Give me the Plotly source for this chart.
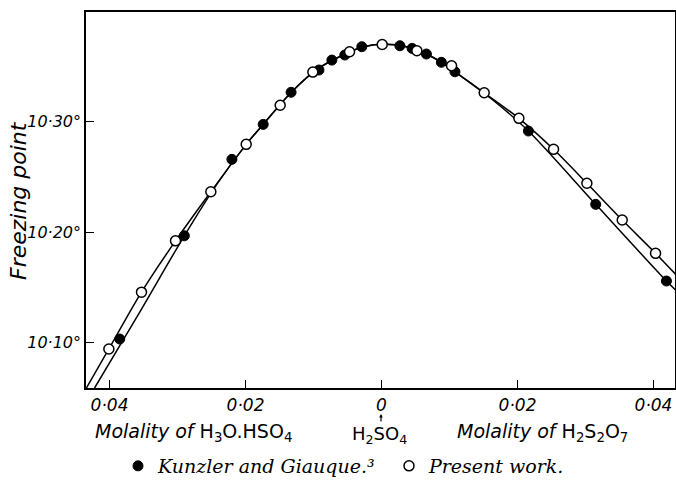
import plotly.graph_objects as go

# ---------------- data ----------------
# x: negative = molality of H3O.HSO4, positive = molality of H2S2O7
kg_x = [-0.0385, -0.0290, -0.0220, -0.0174, -0.0133, -0.0092, -0.0073, -0.0054,
        -0.0029, 0.0027, 0.0045, 0.0066, 0.0088, 0.0108, 0.0216, 0.0315, 0.0419]
kg_y = [10.103, 10.1966, 10.2659, 10.2976, 10.3267, 10.3469, 10.3559, 10.3605,
        10.3680, 10.3689, 10.3665, 10.3614, 10.3539, 10.3453, 10.2916, 10.2251, 10.1556]

pw_x = [-0.0401, -0.0353, -0.0303, -0.0251, -0.0199, -0.0149, -0.0101, -0.0047,
        0.0001, 0.0052, 0.0103, 0.0151, 0.0202, 0.0253, 0.0302, 0.0354, 0.0403]
pw_y = [10.094, 10.1455, 10.192, 10.2365, 10.2795, 10.315, 10.345, 10.3635,
        10.370, 10.3644, 10.3508, 10.3263, 10.3031, 10.275, 10.2442, 10.2109, 10.1807]

# smooth curves drawn through each set
pw_curve_x = [-0.0434, -0.0401, -0.0353, -0.0303, -0.0251, -0.0199, -0.0174, -0.0133,
              -0.0095, -0.0055, -0.0025, 0.0005, 0.0035, 0.0066, 0.0088, 0.0108,
              0.0151, 0.0202, 0.0253, 0.0302, 0.0354, 0.0403, 0.0435]
pw_curve_y = [10.0586, 10.094, 10.1455, 10.192, 10.2365, 10.2795, 10.2976, 10.3265,
              10.3475, 10.3610, 10.3683, 10.3703, 10.3683, 10.3614, 10.3539, 10.3453,
              10.3263, 10.3031, 10.275, 10.2442, 10.2109, 10.1807, 10.160]

kg_curve_x = [-0.0422, -0.0356, -0.0290, -0.0242, -0.0199, -0.0174, -0.0133,
              -0.0095, -0.0055, -0.0025, 0.0005, 0.0035, 0.0066, 0.0088, 0.0108,
              0.0160, 0.0216, 0.0315, 0.0419, 0.0435]
kg_curve_y = [10.0586, 10.127, 10.1966, 10.2435, 10.2795, 10.2976, 10.3265,
              10.3475, 10.3610, 10.3683, 10.3703, 10.3683, 10.3614, 10.3539, 10.3453,
              10.3215, 10.2916, 10.2251, 10.1556, 10.146]

x_tickvals = [-0.04, -0.02, 0.0, 0.02, 0.04]
x_ticktext = ["0·04", "0·02", "0", "0·02", "0·04"]
y_tickvals = [10.10, 10.20, 10.30]
y_ticktext = ["10·10°", "10·20°", "10·30°"]

# ---------------- figure ----------------
W, H = 676, 480
ML, MR, MT, MB = 86, 1, 12, 92
PW, PH = W - ML - MR, H - MT - MB


def px_x(p):
    return (p - ML) / PW


def px_y(p):
    return (H - MB - p) / PH


fig = go.Figure()
fig.add_trace(go.Scatter(x=pw_curve_x, y=pw_curve_y, mode="lines",
                         line=dict(color="black", width=1.5, shape="spline", smoothing=0.8),
                         showlegend=False, hoverinfo="skip"))
fig.add_trace(go.Scatter(x=kg_curve_x, y=kg_curve_y, mode="lines",
                         line=dict(color="black", width=1.5, shape="spline", smoothing=0.8),
                         showlegend=False, hoverinfo="skip"))
fig.add_trace(go.Scatter(x=kg_x, y=kg_y, mode="markers",
                         name="<i>Kunzler and Giauque.³</i>",
                         marker=dict(symbol="circle", size=10, color="black",
                                     line=dict(color="black", width=1))))
fig.add_trace(go.Scatter(x=pw_x, y=pw_y, mode="markers",
                         name="<i>Present work.</i>",
                         marker=dict(symbol="circle", size=10, color="white",
                                     line=dict(color="black", width=1.5))))

tickfont = dict(family="DejaVu Sans", size=16, color="black")
fig.update_xaxes(range=[-0.04346, 0.04316], showgrid=False, zeroline=False,
                 showline=True, linecolor="black", linewidth=1.5, mirror=True,
                 ticks="inside", ticklen=8, tickwidth=1.3, tickcolor="black",
                 tickvals=x_tickvals, ticktext=["<i>%s</i>" % t for t in x_ticktext],
                 tickfont=dict(family="DejaVu Sans", size=17, color="black"),
                 ticklabelstandoff=1, automargin=False)
fig.update_yaxes(range=[10.0586, 10.3995], showgrid=False, zeroline=False,
                 showline=True, linecolor="black", linewidth=1.5, mirror=True,
                 ticks="inside", ticklen=8, tickwidth=1.3, tickcolor="black",
                 tickvals=y_tickvals, ticktext=["<i>%s</i>" % t for t in y_ticktext],
                 tickfont=tickfont, automargin=False)

lab_font = dict(family="DejaVu Sans", size=19, color="black")
annos = [
    dict(text="<i>Freezing point</i>", x=px_x(18), y=px_y(201), textangle=-90,
         font=dict(family="DejaVu Sans", size=22, color="black")),
    dict(text="<i>Molality of</i> H<sub>3</sub>O.HSO<sub>4</sub>", x=px_x(193), y=px_y(432),
         font=lab_font),
    dict(text="H<sub>2</sub>SO<sub>4</sub>", x=px_x(379), y=px_y(435),
         font=dict(family="DejaVu Sans", size=18, color="black")),
    dict(text="<i>Molality of</i> H<sub>2</sub>S<sub>2</sub>O<sub>7</sub>", x=px_x(542), y=px_y(432),
         font=lab_font),
]
for a in annos:
    fig.add_annotation(xref="paper", yref="paper", showarrow=False,
                       xanchor="center", yanchor="middle", **a)

# small arrow pointing up from H2SO4 to the zero tick label
fig.add_annotation(xref="paper", yref="paper", x=px_x(381), y=px_y(414), text="",
                   showarrow=True, axref="pixel", ayref="pixel", ax=0, ay=9,
                   arrowhead=2, arrowsize=0.6, arrowwidth=1.2, arrowcolor="black")

fig.update_layout(
    width=W, height=H, margin=dict(l=ML, r=MR, t=MT, b=MB, autoexpand=False),
    paper_bgcolor="white", plot_bgcolor="white",
    legend=dict(orientation="h", x=px_x(118), y=px_y(447), xanchor="left", yanchor="top",
                font=dict(family="DejaVu Serif", size=19, color="black"),
                bgcolor="rgba(0,0,0,0)", itemsizing="trace",
                entrywidth=226, entrywidthmode="pixels"),
)

fig.write_html("out.html", config={"responsive": False, "displayModeBar": False},
               post_script="document.body.style.margin='0px';"
                           "document.body.style.overflow='hidden';")
